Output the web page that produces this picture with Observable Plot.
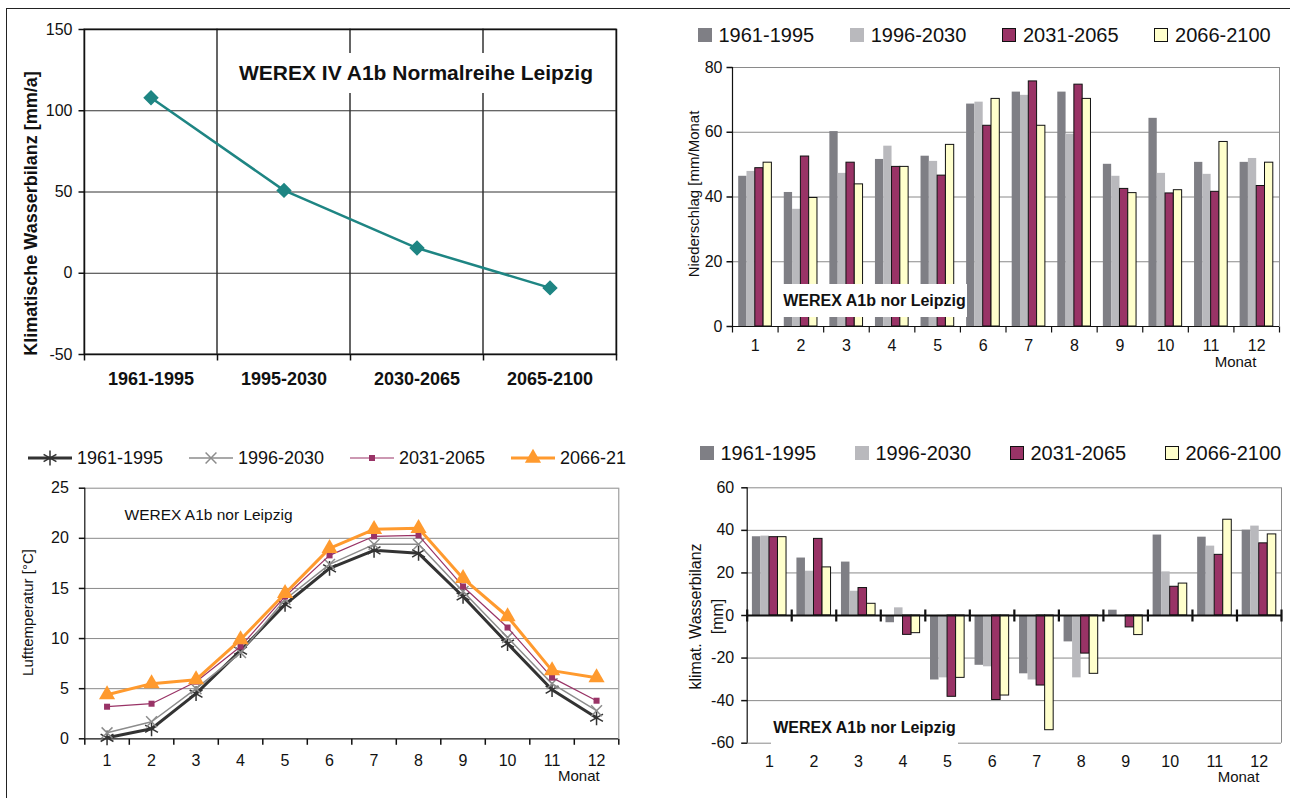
<!DOCTYPE html>
<html><head><meta charset="utf-8">
<script src="https://cdn.jsdelivr.net/npm/d3@7"></script>
<script src="https://cdn.jsdelivr.net/npm/@observablehq/plot@0.6"></script>
<style>
html,body{margin:0;padding:0;background:#fff;}
#page{position:relative;width:1290px;height:798px;overflow:hidden;background:#fff;font-family:"Liberation Sans",Arial,sans-serif;color:#111;}
.pos{position:absolute;}
.box{position:absolute;background:#fff;display:flex;align-items:center;justify-content:center;white-space:nowrap;}
.leg{position:absolute;display:flex;align-items:center;white-space:nowrap;height:22px;}
.sw{display:inline-block;box-sizing:border-box;width:14px;height:14px;}
</style></head><body><div id="page"></div>
<script>
// ---------- DATA ----------
const periods = ["1961-1995", "1995-2030", "2030-2065", "2065-2100"];
const annualBalance = [108, 51, 15.5, -9];
const annualTicks = [-50, 0, 50, 100, 150];
const annualTitle = "Klimatische Wasserbilanz [mm/a]";
const annualLabel = "WEREX IV A1b Normalreihe Leipzig";

const months = [1, 2, 3, 4, 5, 6, 7, 8, 9, 10, 11, 12];
const seriesNames = ["1961-1995", "1996-2030", "2031-2065", "2066-2100"];
const tempLegendLabels = ["1961-1995", "1996-2030", "2031-2065", "2066-21"];

const precip1961 = [46.4, 41.4, 60.2, 51.6, 52.6, 68.7, 72.4, 72.4, 50.1, 64.3, 50.7, 50.7];
const precip1996 = [47.9, 36.2, 47.3, 55.7, 51.0, 69.3, 71.4, 59.4, 46.4, 47.3, 47.0, 51.9];
const precip2031 = [48.9, 52.5, 50.6, 49.3, 46.6, 62.0, 75.7, 74.7, 42.5, 41.1, 41.6, 43.4];
const precip2066 = [50.6, 39.7, 43.9, 49.3, 56.1, 70.3, 62.0, 70.3, 41.2, 42.1, 57.0, 50.6];
const precipTicks = [0, 20, 40, 60, 80];
const precipTitle = "Niederschlag [mm/Monat";

const temp1961 = [0.1, 1.0, 4.5, 8.8, 13.4, 17.0, 18.8, 18.5, 14.2, 9.5, 4.9, 2.1];
const temp1996 = [0.6, 1.7, 5.0, 8.6, 13.9, 17.4, 19.4, 19.4, 14.7, 10.1, 5.5, 2.8];
const temp2031 = [3.2, 3.5, 5.7, 9.2, 14.2, 18.3, 20.2, 20.3, 15.2, 11.1, 6.1, 3.8];
const temp2066 = [4.4, 5.5, 5.9, 9.9, 14.5, 19.0, 20.9, 21.0, 16.0, 12.2, 6.8, 6.1];
const tempTicks = [0, 5, 10, 15, 20, 25];
const tempTitle = "Lufttemperatur [°C]";

const wb1961 = [37.0, 27.0, 25.1, -3.4, -30.3, -23.4, -27.4, -12.4, 2.5, 37.8, 36.8, 40.1];
const wb1996 = [37.3, 20.8, 11.4, 3.6, -29.3, -24.1, -30.3, -29.3, 0, 20.5, 32.6, 42.0];
const wb2031 = [36.8, 36.0, 12.9, -9.1, -38.2, -39.7, -32.9, -17.9, -5.6, 13.5, 28.5, 33.9];
const wb2066 = [36.8, 22.6, 5.5, -8.3, -29.3, -37.6, -53.9, -27.4, -9.2, 15.0, 45.0, 38.1];
const wbTicks = [-60, -40, -20, 0, 20, 40, 60];
const wbTitle1 = "klimat. Wasserbilanz";
const wbTitle2 = "[mm]";

const monthLabel = "Monat";
const smallLabel = "WEREX A1b nor Leipzig";

// ---------- STYLE ----------
const FONT = '"Liberation Sans", Arial, sans-serif';
const TEAL = "#1e8583";
const barColors = ["#7f7f85", "#b9b9bd", "#993366", "#ffffcc"];
const barStrokes = [null, null, "#111", "#111"];
const lineColors = ["#333333", "#8c8c8c", "#993366", "#ff9a2e"];
const GRID = "#8a8a8a";
const baseStyle = {fontFamily: FONT, fontSize: "16px", color: "#111", background: "transparent", overflow: "visible"};

const tickDown = {draw(c) { c.moveTo(0, 0); c.lineTo(0, 6); }};
const tickLeft = {draw(c) { c.moveTo(0, 0); c.lineTo(-6, 0); }};
const tickCross = {draw(c) { c.moveTo(0, -6); c.lineTo(0, 6); }};

const page = document.getElementById("page");
function place(node, left, top) {
  const d = document.createElement("div");
  d.className = "pos"; d.style.left = left + "px"; d.style.top = top + "px";
  d.appendChild(node); page.appendChild(d); return d;
}
function textBox(text, left, top, w, h, css) {
  const d = document.createElement("div");
  d.className = "box";
  d.style.cssText += `left:${left}px;top:${top}px;width:${w}px;height:${h}px;${css}`;
  d.textContent = text; page.appendChild(d); return d;
}

// outer frame lines
const fr = document.createElement("div");
fr.className = "pos";
fr.style.cssText += "left:6px;top:8px;width:1284px;height:790px;border-top:1px solid #222;border-left:1px solid #222;";
page.appendChild(fr);

// ---------- TOP LEFT ----------
{
  const W = 640, H = 400, ml = 84, mr = 24, mt = 29, mb = 46;
  const bw = (W - ml - mr) / periods.length;
  const tl = Plot.plot({
    width: W, height: H, marginLeft: ml, marginRight: mr, marginTop: mt, marginBottom: mb,
    style: baseStyle,
    x: {type: "band", domain: periods, paddingInner: 0, paddingOuter: 0, round: false, axis: null},
    y: {domain: [annualTicks[0], annualTicks[annualTicks.length - 1]], axis: null},
    marks: [
      Plot.ruleY(annualTicks.slice(1, -1), {stroke: "#333", strokeWidth: 1}),
      Plot.cell(periods, {x: d => d, stroke: "#333", fill: "none"}),
      Plot.frame({stroke: "#111", strokeWidth: 1.5}),
      Plot.dot(annualTicks, {y: d => d, frameAnchor: "left", symbol: tickLeft, stroke: "#111", fill: "none"}),
      Plot.dot(periods, {x: d => d, frameAnchor: "bottom", symbol: tickDown, stroke: "#111", fill: "none", dx: -bw / 2}),
      Plot.dot(periods.slice(-1), {x: d => d, frameAnchor: "bottom", symbol: tickDown, stroke: "#111", fill: "none", dx: bw / 2}),
      Plot.text(annualTicks, {y: d => d, text: d => String(d), frameAnchor: "left", dx: -12, textAnchor: "end", fontSize: 16, fill: "#111"}),
      Plot.text(periods, {x: d => d, frameAnchor: "bottom", dy: 30, fontSize: 18, fontWeight: "bold", fill: "#111"}),
      Plot.text([annualTitle], {frameAnchor: "left", textAnchor: "middle", rotate: -90, dx: -53, dy: 21.5, fontSize: 18, fontWeight: "bold", fill: "#111"}),
      Plot.line(annualBalance, {x: (d, i) => periods[i], y: d => d, stroke: TEAL, strokeWidth: 2.5}),
      Plot.dot(annualBalance, {x: (d, i) => periods[i], y: d => d, symbol: "diamond2", r: 6, fill: TEAL, stroke: TEAL})
    ]
  });
  place(tl, 0, 0);
  textBox(annualLabel, 228, 53, 376, 40, "font-size:21px;font-weight:bold;");
}

// ---------- helper for grouped bar charts ----------
function barChart(opts) {
  const {W, H, ml, mr, mt, mb, series, ticks, pad, zeroWidth, tickSym, labelDx, labelDy, monatDx, monatDy, title, titleDx, titleDy, titleSize, extraTitles} = opts;
  const bw = (W - ml - mr) / months.length;
  const barW = (bw - 2 * pad) / series.length;
  const marks = [
    Plot.ruleY(ticks.filter(d => d !== 0 && d !== ticks[0]), {stroke: GRID}),
    Plot.ruleY([ticks[0]], {stroke: GRID}),
    Plot.ruleX(months.slice(-1), {x: d => d, dx: bw / 2, stroke: GRID})
  ];
  series.forEach((vals, i) => {
    const o = {x: (d, j) => months[j], y: d => d, fill: barColors[i],
      insetLeft: pad + i * barW, insetRight: bw - pad - (i + 1) * barW};
    if (barStrokes[i]) { o.stroke = barStrokes[i]; o.strokeWidth = 1; }
    marks.push(Plot.barY(vals, o));
  });
  marks.push(
    Plot.ruleY([0], {stroke: "#111", strokeWidth: zeroWidth}),
    Plot.ruleX(months.slice(0, 1), {x: d => d, dx: -bw / 2, stroke: "#111", strokeWidth: 1.2}),
    Plot.dot(ticks, {y: d => d, frameAnchor: "left", symbol: tickLeft, stroke: "#111", fill: "none"}),
    Plot.dot(months, {x: d => d, y: () => 0, symbol: tickSym, stroke: "#111", fill: "none", strokeWidth: zeroWidth, dx: -bw / 2}),
    Plot.dot(months.slice(-1), {x: d => d, y: () => 0, symbol: tickSym, stroke: "#111", fill: "none", strokeWidth: zeroWidth, dx: bw / 2}),
    Plot.text(ticks, {y: d => d, text: d => String(d), frameAnchor: "left", dx: labelDx, textAnchor: "end", fontSize: 16, fill: "#111"}),
    Plot.text(months, {x: d => d, text: d => String(d), frameAnchor: "bottom", dy: labelDy, fontSize: 16, fill: "#111"}),
    Plot.text([monthLabel], {frameAnchor: "bottom-right", textAnchor: "middle", dx: monatDx, dy: monatDy, fontSize: 15, fill: "#111"}),
    Plot.text([title], {frameAnchor: "left", textAnchor: "middle", rotate: -90, dx: titleDx, dy: titleDy, fontSize: titleSize, fill: "#111"})
  );
  if (extraTitles) extraTitles.forEach(t => marks.push(Plot.text([t.text], {frameAnchor: "left", textAnchor: "middle", rotate: -90, dx: t.dx, dy: t.dy, fontSize: titleSize, fill: "#111"})));
  return Plot.plot({
    width: W, height: H, marginLeft: ml, marginRight: mr, marginTop: mt, marginBottom: mb,
    style: baseStyle,
    x: {type: "band", domain: months, paddingInner: 0, paddingOuter: 0, round: false, axis: null},
    y: {domain: [ticks[0], ticks[ticks.length - 1]], axis: null},
    marks
  });
}

function squareLegend(x0, step, centerY) {
  seriesNames.forEach((name, i) => {
    const item = document.createElement("div");
    item.className = "leg";
    item.style.left = (x0 + i * step) + "px";
    item.style.top = (centerY - 11) + "px";
    item.style.fontSize = "20px";
    const sw = document.createElement("span");
    sw.className = "sw";
    sw.style.background = barColors[i];
    if (barStrokes[i]) sw.style.border = "1px solid " + barStrokes[i];
    sw.style.marginRight = "7px";
    item.appendChild(sw);
    item.appendChild(document.createTextNode(name));
    page.appendChild(item);
  });
}

// ---------- TOP RIGHT ----------
{
  const tr = barChart({
    W: 610, H: 330, ml: 52, mr: 11, mt: 17, mb: 54,
    series: [precip1961, precip1996, precip2031, precip2066], ticks: precipTicks,
    pad: 6.2, zeroWidth: 1.2, tickSym: tickDown, labelDx: -10, labelDy: 24,
    monatDx: -44, monatDy: 40, title: precipTitle, titleDx: -38, titleDy: -3, titleSize: 15
  });
  place(tr, 680, 50);
  squareLegend(697.5, 152.2, 35);
  textBox(smallLabel, 782, 284, 185, 33, "font-size:16px;font-weight:bold;");
}

// ---------- BOTTOM RIGHT ----------
{
  const br = barChart({
    W: 610, H: 328, ml: 66.7, mr: 9, mt: 17.3, mb: 55.3,
    series: [wb1961, wb1996, wb2031, wb2066], ticks: wbTicks,
    pad: 5.2, zeroWidth: 2.2, tickSym: tickCross, labelDx: -13, labelDy: 24,
    monatDx: -43, monatDy: 39, title: wbTitle1, titleDx: -51.7, titleDy: 1, titleSize: 16,
    extraTitles: [{text: wbTitle2, dx: -29.7, dy: 1}]
  });
  place(br, 680, 470);
  squareLegend(699.5, 155, 453);
  textBox(smallLabel, 771, 711, 187, 34, "font-size:16px;font-weight:bold;");
}

// ---------- BOTTOM LEFT ----------
const tempSeries = [temp1961, temp1996, temp2031, temp2066];
const tempSymbols = ["asterisk", "times", "square", "triangle"];
const tempR = [7, 5, 3.4, 6];
const tempWidths = [3, 1.5, 1.2, 3];
{
  const W = 640, H = 328, ml = 84.3, mr = 21.7, mt = 17.7, mb = 59.7;
  const bw = (W - ml - mr) / months.length;
  const marks = [
    Plot.ruleY(tempTicks.slice(1), {stroke: GRID}),
    Plot.ruleX(months.slice(-1), {x: d => d, dx: bw / 2, stroke: GRID}),
    Plot.ruleY([0], {stroke: "#111", strokeWidth: 1.2}),
    Plot.ruleX(months.slice(0, 1), {x: d => d, dx: -bw / 2, stroke: "#111", strokeWidth: 1.2}),
    Plot.dot(tempTicks, {y: d => d, frameAnchor: "left", symbol: tickLeft, stroke: "#111", fill: "none"}),
    Plot.dot(months, {x: d => d, frameAnchor: "bottom", symbol: tickDown, stroke: "#111", fill: "none", dx: -bw / 2}),
    Plot.dot(months.slice(-1), {x: d => d, frameAnchor: "bottom", symbol: tickDown, stroke: "#111", fill: "none", dx: bw / 2}),
    Plot.text(tempTicks, {y: d => d, text: d => String(d), frameAnchor: "left", dx: -16, textAnchor: "end", fontSize: 16, fill: "#111"}),
    Plot.text(months, {x: d => d, text: d => String(d), frameAnchor: "bottom", dy: 26.7, fontSize: 16, fill: "#111"}),
    Plot.text([monthLabel], {frameAnchor: "bottom-right", textAnchor: "middle", dx: -40, dy: 42, fontSize: 15, fill: "#111"}),
    Plot.text([tempTitle], {frameAnchor: "left", textAnchor: "middle", rotate: -90, dx: -56.3, dy: -1, fontSize: 15, fill: "#111"}),
    Plot.text([smallLabel], {frameAnchor: "top-left", dx: 39.7, dy: 20.6, textAnchor: "start", fontSize: 15.5, fill: "#111"})
  ];
  tempSeries.forEach((vals, i) => {
    marks.push(Plot.line(vals, {x: (d, j) => months[j], y: d => d, stroke: lineColors[i], strokeWidth: tempWidths[i]}));
    const dopt = {x: (d, j) => months[j], y: d => d, symbol: tempSymbols[i], r: tempR[i]};
    if (i < 2) { dopt.stroke = lineColors[i]; dopt.fill = "none"; dopt.strokeWidth = 1.5; }
    else { dopt.fill = lineColors[i]; dopt.stroke = "none"; }
    marks.push(Plot.dot(vals, dopt));
  });
  const bl = Plot.plot({
    width: W, height: H, marginLeft: ml, marginRight: mr, marginTop: mt, marginBottom: mb,
    style: baseStyle,
    x: {type: "band", domain: months, paddingInner: 0, paddingOuter: 0, round: false, axis: null},
    y: {domain: [tempTicks[0], tempTicks[tempTicks.length - 1]], axis: null},
    marks
  });
  place(bl, 0, 470);

  const symTypes = [d3.symbolAsterisk, d3.symbolTimes, d3.symbolSquare, d3.symbolTriangle];
  tempLegendLabels.forEach((name, i) => {
    const item = document.createElement("div");
    item.className = "leg";
    item.style.left = (28 + i * 161) + "px";
    item.style.top = "447px";
    item.style.fontSize = "18px";
    const svg = d3.create("svg").attr("width", 44).attr("height", 22).style("margin-right", "5px").style("overflow", "visible");
    svg.append("line").attr("x1", 0).attr("x2", 44).attr("y1", 11).attr("y2", 11)
      .attr("stroke", lineColors[i]).attr("stroke-width", tempWidths[i]);
    const p = svg.append("path").attr("transform", "translate(22,11)")
      .attr("d", d3.symbol(symTypes[i], Math.PI * tempR[i] * tempR[i])());
    if (i < 2) p.attr("fill", "none").attr("stroke", lineColors[i]).attr("stroke-width", 1.5);
    else p.attr("fill", lineColors[i]);
    item.appendChild(svg.node());
    item.appendChild(document.createTextNode(name));
    page.appendChild(item);
  });
}
</script>
</body></html>
